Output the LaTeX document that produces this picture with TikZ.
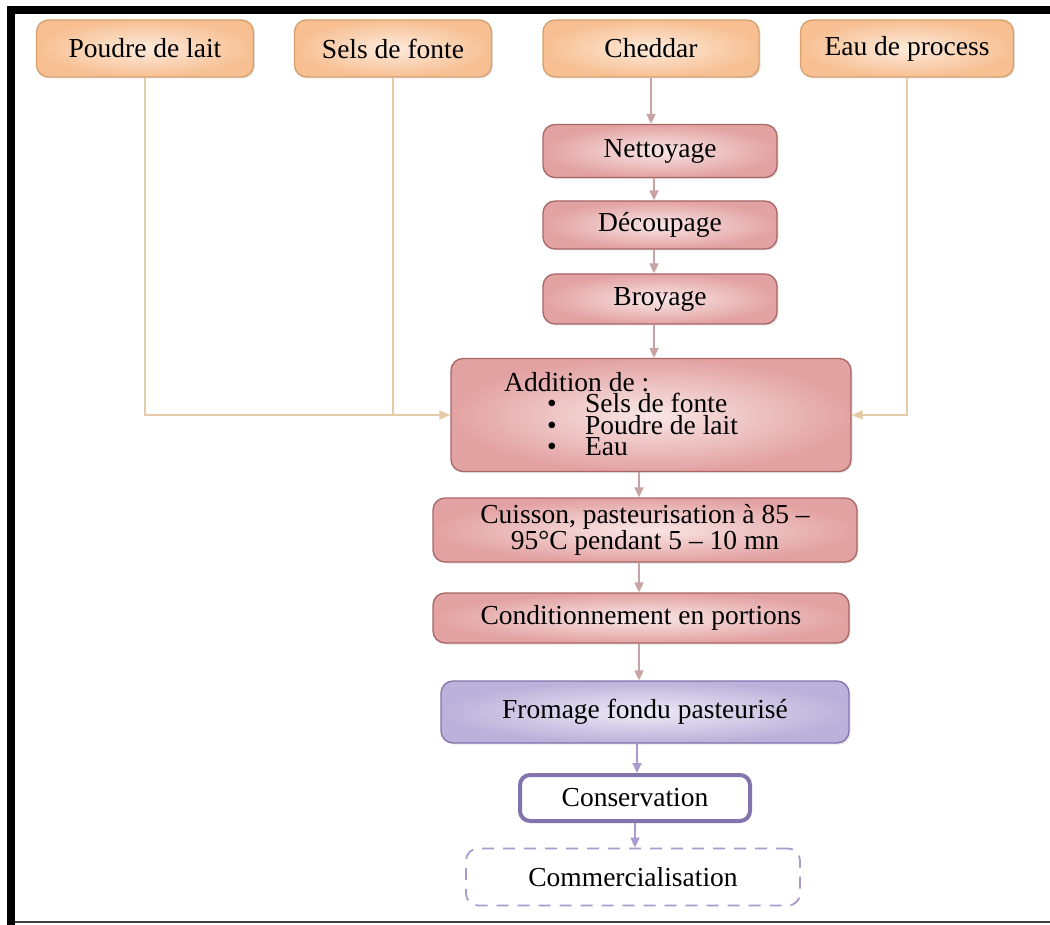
\documentclass[tikz,border=0pt]{standalone}
\usepackage{fontspec}
\setmainfont{Liberation Serif}
\usetikzlibrary{arrows.meta,shadows}
\definecolor{orbd}{HTML}{D6A06C}
\definecolor{orin}{HTML}{FDEBDC}
\definecolor{orout}{HTML}{F7BF92}
\definecolor{rdbd}{HTML}{A86666}
\definecolor{rdin}{HTML}{F9E6E6}
\definecolor{rdout}{HTML}{E3A2A2}
\definecolor{pubd}{HTML}{8474AE}
\definecolor{puin}{HTML}{EEEAF7}
\definecolor{puout}{HTML}{BCB1DA}
\definecolor{arO}{HTML}{E6CBA9}
\definecolor{arR}{HTML}{C8A3A3}
\definecolor{arP}{HTML}{A99BCB}
\begin{document}
\begin{tikzpicture}[x=1pt,y=-1pt,
  font=\fontsize{27.5}{22}\selectfont,
  box/.style={rounded corners=12pt, line width=1.3pt, inner sep=0pt, align=center,
    drop shadow={opacity=0.2, shadow xshift=1.5pt, shadow yshift=-1.5pt}},
  orbox/.style={box, draw=orbd, inner color=orin, outer color=orout, minimum height=57pt},
  rdbox/.style={box, draw=rdbd, inner color=rdin, outer color=rdout},
  pubox/.style={box, draw=pubd, inner color=puin, outer color=puout},
  arrO/.style={draw=arO, line width=1.8pt},
  arrOh/.style={arrO, -{Triangle[length=11pt,width=9pt]}},
  arrR/.style={draw=arR, line width=1.8pt, -{Triangle[length=10pt,width=9pt]}},
  arrP/.style={draw=arP, line width=1.8pt, -{Triangle[length=10pt,width=9pt]}}]
\fill[white] (0,0) rectangle (1050,925);
\useasboundingbox (0,0) rectangle (1050,925);
% frame
\fill[black] (7,6) rectangle (1050,14);
\fill[black] (7,6) rectangle (15,925);
\draw[black!75, line width=1.5pt] (15,922) -- (1050,922);
% top inputs
\node[orbox, minimum width=217pt] (poudre) at (145,48.5) {Poudre de lait};
\node[orbox, minimum width=197pt] (sels) at (393,48.5) {Sels de fonte};
\node[orbox, minimum width=216pt] (ched) at (651,48.5) {Cheddar};
\node[orbox, minimum width=213pt] (eau) at (907,48.5) {Eau de process};
% red column
\node[rdbox, minimum width=234pt, minimum height=53pt] (net) at (660,151) {Nettoyage};
\node[rdbox, minimum width=234pt, minimum height=48pt] (dec) at (660,225) {Découpage};
\node[rdbox, minimum width=234pt, minimum height=50pt] (bro) at (660,299) {Broyage};
\node[rdbox, minimum width=400pt, minimum height=113pt] (add) at (651,415) {};
\node[anchor=north west, inner sep=0pt, align=left,
  font=\fontsize{27.5}{21.5}\selectfont] (addt) at (504,372)
  {Addition de :\\
   \hspace*{43pt}\makebox[38pt][l]{\textbullet}Sels de fonte\\
   \hspace*{43pt}\makebox[38pt][l]{\textbullet}Poudre de lait\\
   \hspace*{43pt}\makebox[38pt][l]{\textbullet}Eau};
\node[rdbox, minimum width=424pt, minimum height=64pt] (cuis) at (645,530)
  {Cuisson, pasteurisation à 85 –\\95°C pendant 5 – 10 mn};
\node[rdbox, minimum width=416pt, minimum height=50pt] (cond) at (641,618) {Conditionnement en portions};
% purple
\node[pubox, minimum width=408pt, minimum height=62pt] (from) at (645,712) {Fromage fondu pasteurisé};
\node[rounded corners=10pt, draw=pubd, line width=4pt, fill=white, minimum width=230pt,
  minimum height=46pt, inner sep=0pt] (cons) at (635,798) {Conservation};
\node[rounded corners=12pt, draw=arP, line width=1.8pt, dash pattern=on 12pt off 9pt,
  fill=white, minimum width=334pt, minimum height=57pt, inner sep=0pt] (comm) at (633,877) {Commercialisation};
% connectors from inputs
\draw[arrOh] (poudre.south) |- (add.west);
\draw[arrO] (sels.south) -- (sels.south |- add.west);
\draw[arrOh] (eau.south) |- (add.east);
\draw[arrR] (ched.south) -- (ched.south |- net.north);
\draw[arrR] ([xshift=-6pt]net.south) -- ([xshift=-6pt]net.south |- dec.north);
\draw[arrR] ([xshift=-6pt]dec.south) -- ([xshift=-6pt]dec.south |- bro.north);
\draw[arrR] ([xshift=-6pt]bro.south) -- ([xshift=-6pt]bro.south |- add.north);
\draw[arrR] ([xshift=-12pt]add.south) -- ([xshift=-12pt]add.south |- cuis.north);
\draw[arrR] ([xshift=-6pt]cuis.south) -- ([xshift=-6pt]cuis.south |- cond.north);
\draw[arrR] ([xshift=-2pt]cond.south) -- ([xshift=-2pt]cond.south |- from.north);
\draw[arrP] ([xshift=-8pt]from.south) -- ([xshift=-8pt]from.south |- cons.north);
\draw[arrP] (cons.south) -- (cons.south |- comm.north);
\end{tikzpicture}
\end{document}
